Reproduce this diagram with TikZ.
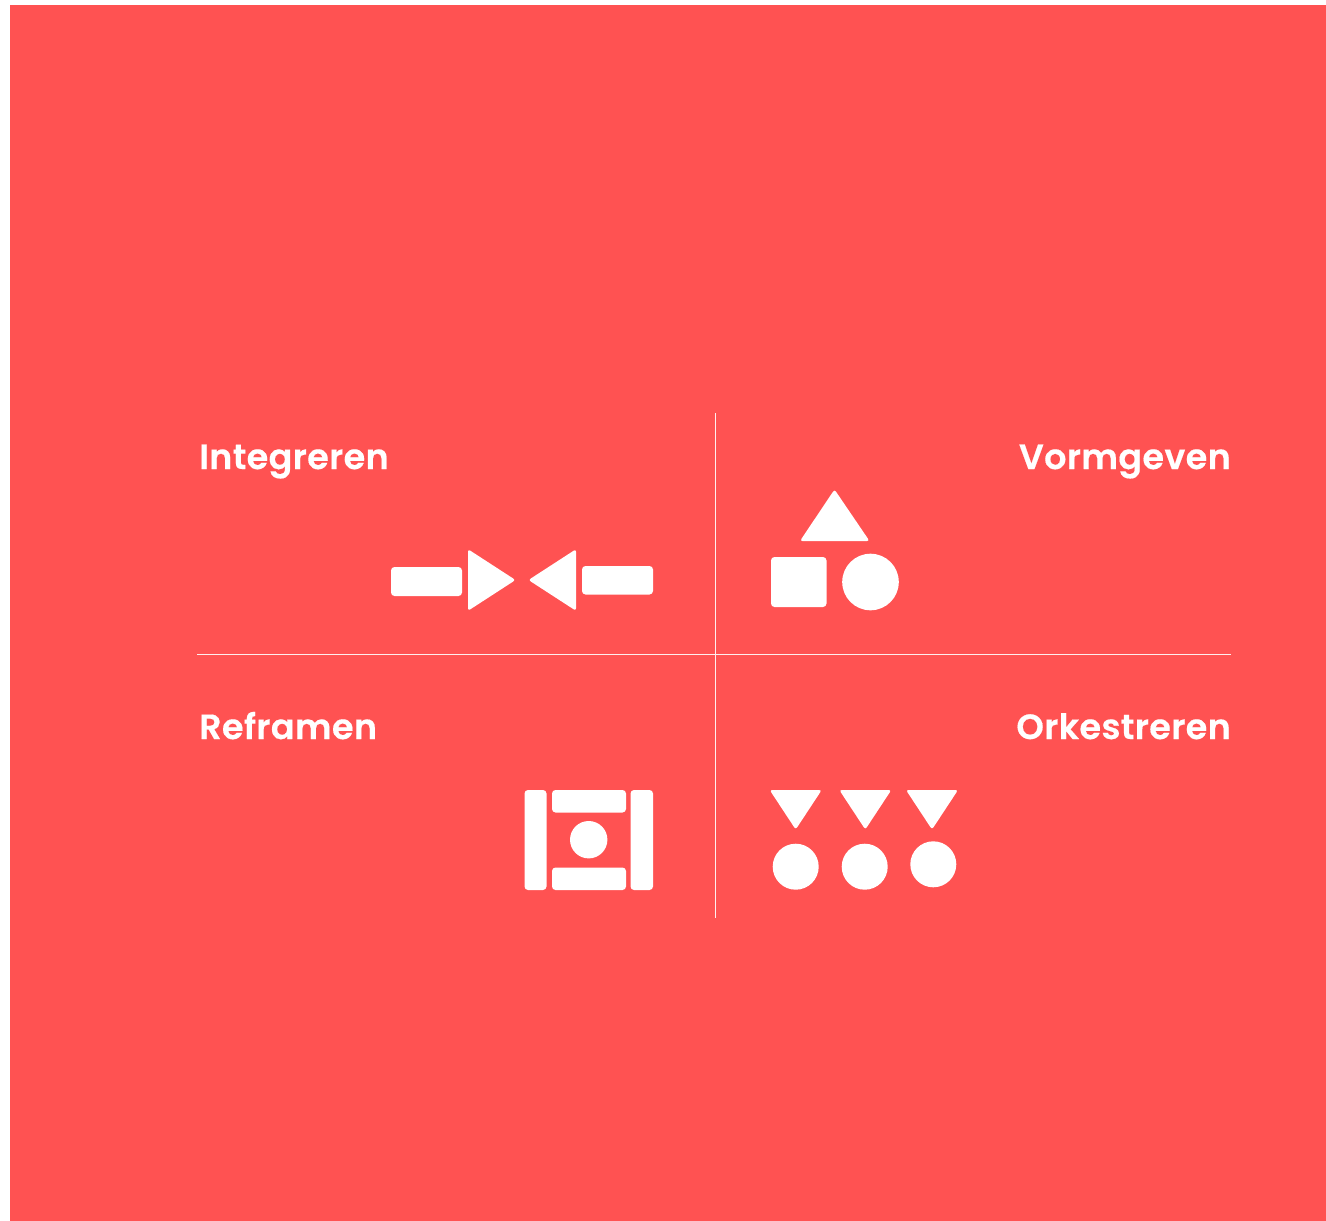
\documentclass[tikz,border=0pt]{standalone}
\usepackage{fontspec}
\setmainfont{Poppins}[BoldFont={Poppins SemiBold},BoldFeatures={FakeBold=0.4},LetterSpace=1]
\definecolor{bgred}{HTML}{FF5252}
\tikzset{
  icon/.style={fill=white, rounded corners=2.5pt},
  bar/.style={fill=white, rounded corners=3.5pt},
  rule/.style={draw=white!90!bgred, line width=1.1pt},
  title/.style={text=white, inner sep=0pt, font=\fontsize{35}{40}\bfseries\selectfont}
}
\begin{document}
\begin{tikzpicture}[x=1pt,y=-1pt]
\useasboundingbox (0,0) rectangle (1326,1221);
\fill[bgred] (10,5) rectangle (1326,1221);
% axes
\coordinate (top) at (715.7,413);
\coordinate (bottom) at (715.7,918);
\coordinate (left) at (197,654.5);
\coordinate (right) at (1231,654.5);
\draw[rule] (top) -- (bottom);
\draw[rule] (left) -- (right);
% titles
\node[title, anchor=base west] (integreren) at (199,469) {Integreren};
\node[title, anchor=base east] (vormgeven) at (1231,469) {Vormgeven};
\node[title, anchor=base west] (reframen) at (199,739) {Reframen};
\node[title, anchor=base east] (orkestreren) at (1231,739) {Orkestreren};
% integreren
\fill[bar] (391,567) rectangle (462,596);
\fill[icon] (468,549.2) -- (515.5,580) -- (468,610.8) -- cycle;
\fill[icon] (576,549.2) -- (528.5,580) -- (576,610.8) -- cycle;
\fill[bar] (582,566) rectangle (653,594.5);
% vormgeven
\fill[icon] (834.5,489.5) -- (800,541) -- (869.5,541) -- cycle;
\fill[bar] (771,557) rectangle (826.5,607);
\fill[icon] (870.5,582) circle (28.3);
% reframen
\fill[bar] (524.5,790) rectangle (546.5,890);
\fill[bar] (630.5,790) rectangle (653,890);
\fill[bar] (552,790) rectangle (626,812.5);
\fill[bar] (552,867.5) rectangle (626,890);
\fill[icon] (588.7,839.7) circle (18.7);
% orkestreren
\foreach \tx in {795.7,865.3,932}
  \fill[icon] (\tx-26,790) -- (\tx+26,790) -- (\tx,829.5) -- cycle;
\fill[icon] (795.7,866.7) circle (23);
\fill[icon] (864.7,866.7) circle (23);
\fill[icon] (933.3,864.3) circle (23);
\end{tikzpicture}
\end{document}
